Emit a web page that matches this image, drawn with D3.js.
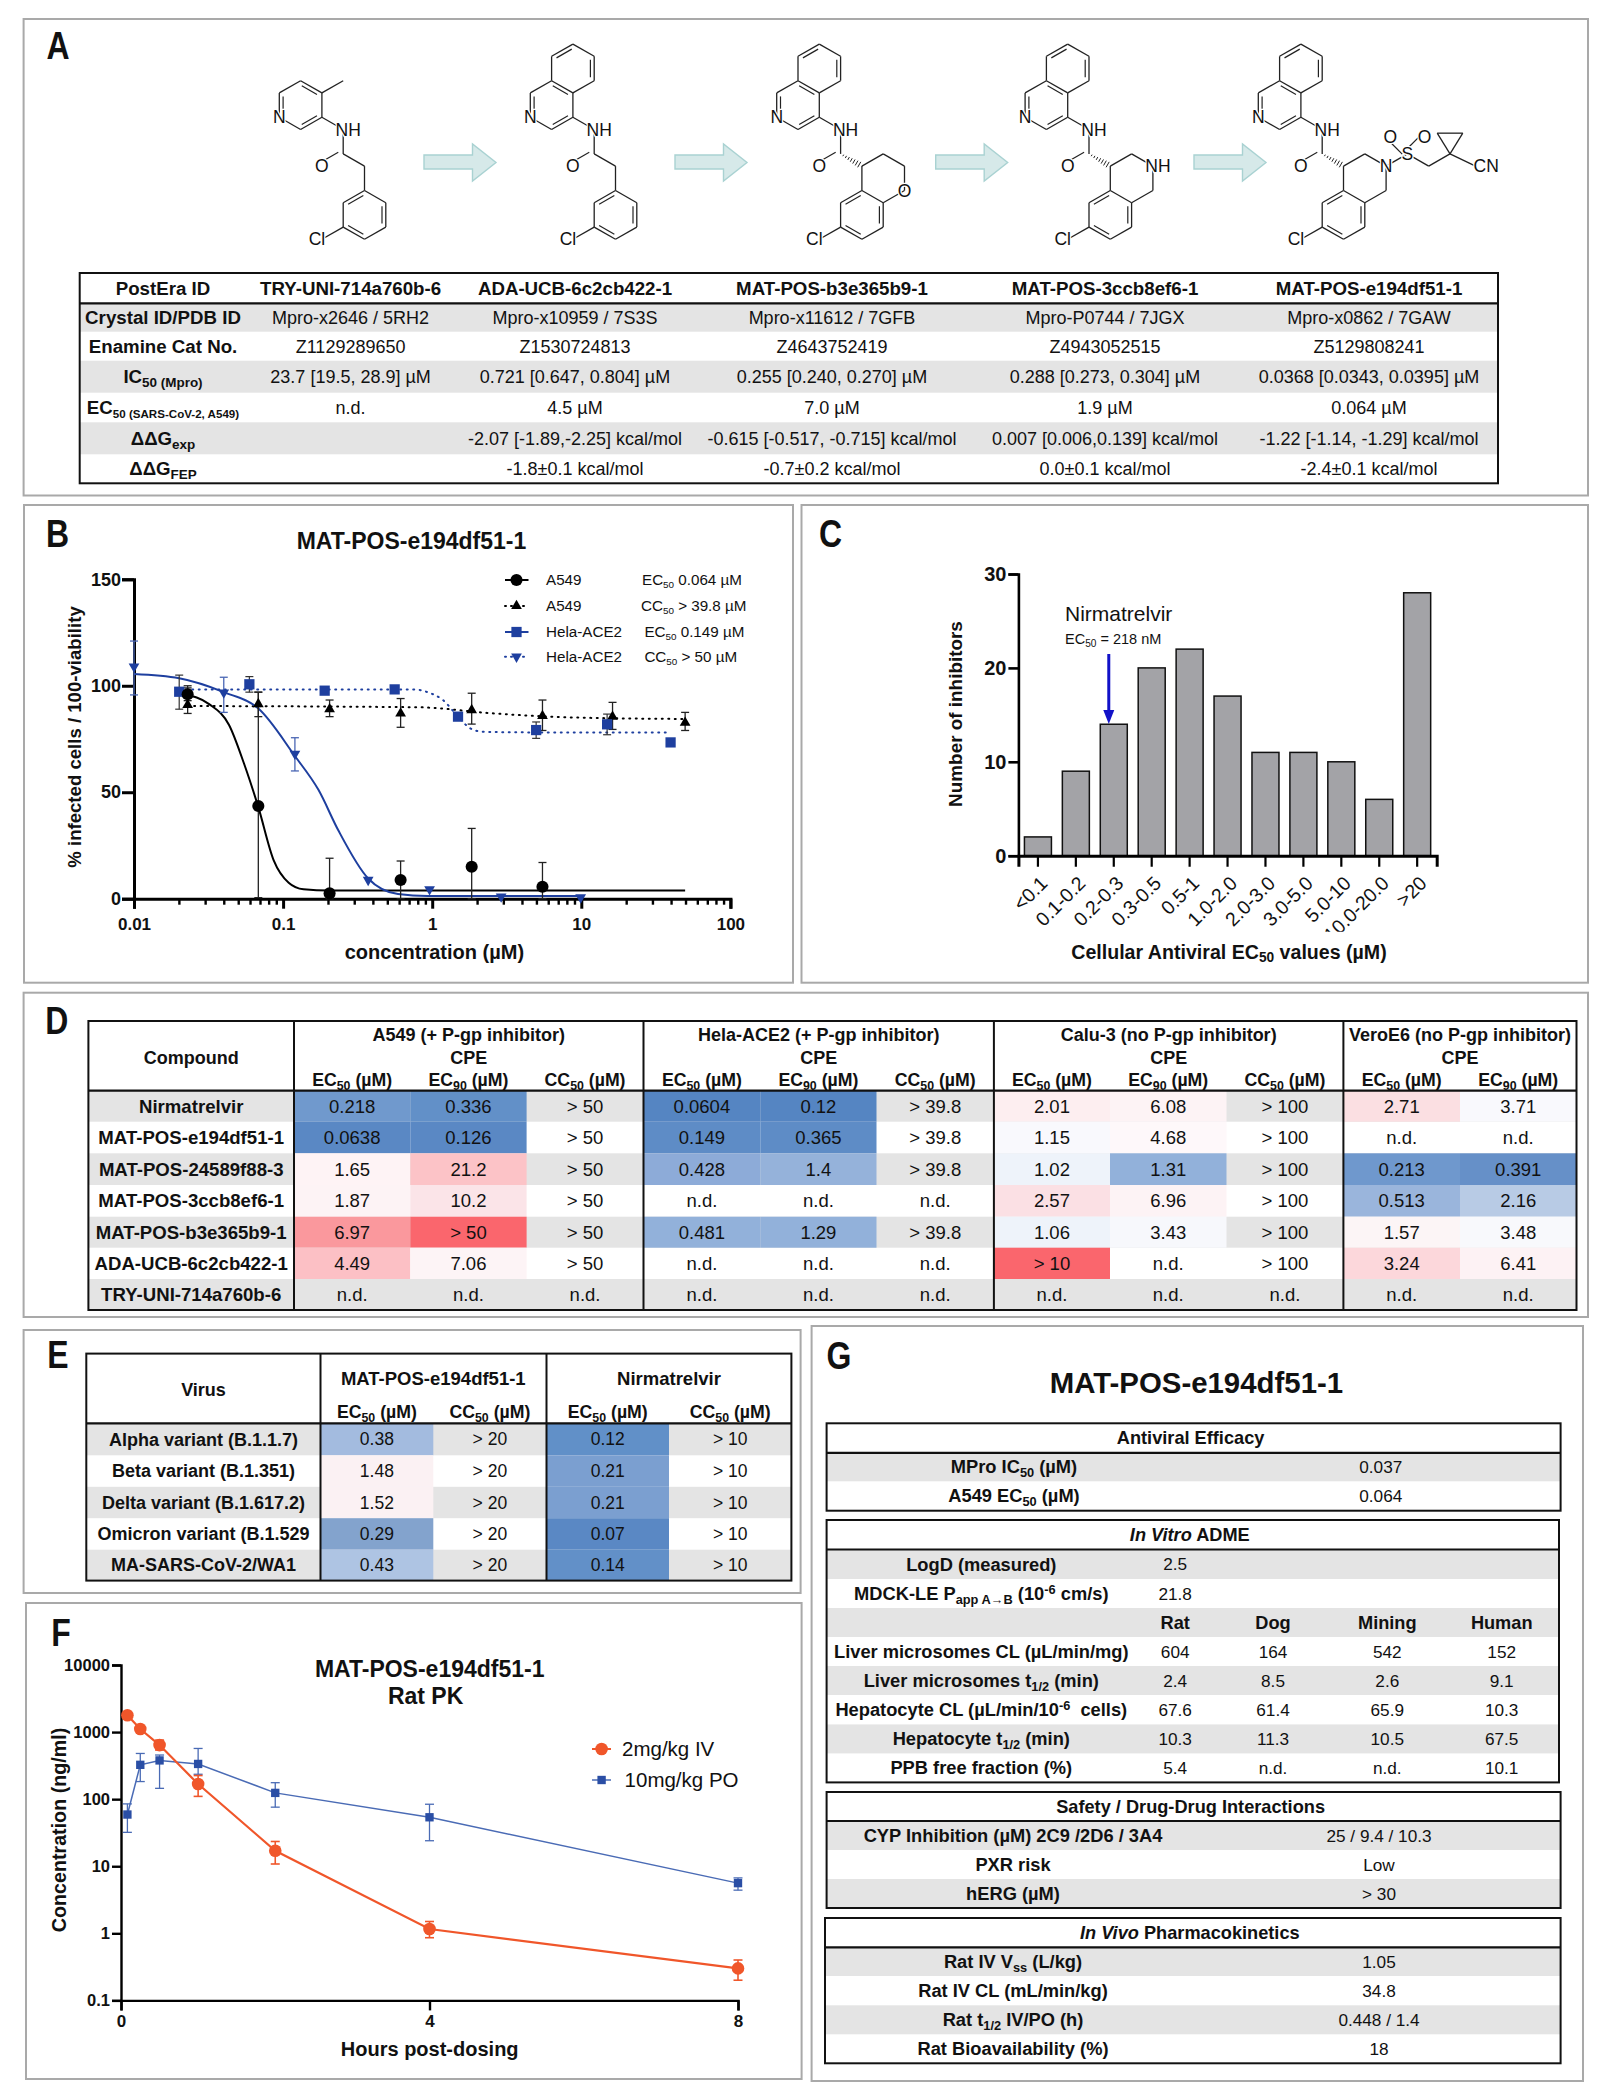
<!DOCTYPE html>
<html>
<head>
<meta charset="utf-8">
<script src="https://cdnjs.cloudflare.com/ajax/libs/d3/7.8.5/d3.min.js"></script>
<style>
body { margin: 0; background: #fff; }
text { font-family: "Liberation Sans", Arial, sans-serif; fill: #111; }
</style>
</head>
<body>
<svg id="fig" width="1603" height="2100"></svg>
<script>
// panel A table
var aHeader = ["PostEra ID", "TRY-UNI-714a760b-6", "ADA-UCB-6c2cb422-1", "MAT-POS-b3e365b9-1", "MAT-POS-3ccb8ef6-1", "MAT-POS-e194df51-1"];
var aCrystal = ["Crystal ID/PDB ID", "Mpro-x2646 / 5RH2", "Mpro-x10959 / 7S3S", "Mpro-x11612 / 7GFB", "Mpro-P0744 / 7JGX", "Mpro-x0862 / 7GAW"];
var aEnamine = ["Enamine Cat No.", "Z1129289650", "Z1530724813", "Z4643752419", "Z4943052515", "Z5129808241"];
var aIc50 = ["IC_{50 (Mpro)}", "23.7 [19.5, 28.9] µM", "0.721 [0.647, 0.804] µM", "0.255 [0.240, 0.270] µM", "0.288 [0.273, 0.304] µM", "0.0368 [0.0343, 0.0395] µM"];
var aEc50 = ["EC_{50 (SARS-CoV-2, A549)}", "n.d.", "4.5 µM", "7.0 µM", "1.9 µM", "0.064 µM"];
var aDdgExp = ["ΔΔG_{exp}", "", "-2.07 [-1.89,-2.25] kcal/mol", "-0.615 [-0.517, -0.715] kcal/mol", "0.007 [0.006,0.139] kcal/mol", "-1.22 [-1.14, -1.29] kcal/mol"];
var aDdgFep = ["ΔΔG_{FEP}", "", "-1.8±0.1 kcal/mol", "-0.7±0.2 kcal/mol", "0.0±0.1 kcal/mol", "-2.4±0.1 kcal/mol"];

// panel B, one set of arrays per series
var a549EcConc = [0.0229, 0.0682, 0.205, 0.614, 1.84, 5.49];
var a549EcVal = [96, 43.5, 2.5, 8.8, 15, 5.6];
var a549EcHi = [99, 97, 19, 17.7, 33, 17];
var a549EcLo = [93, 0.5, 0, 0, 0, 0];
var a549EcFitConc = [0.0217, 0.0319, 0.0434, 0.0546, 0.0682, 0.0865, 0.109, 0.137, 0.205, 49.7];
var a549EcFitVal = [96, 91.4, 81.6, 63.6, 43, 18, 7.5, 4.4, 3.8, 3.8];

var a549CcConc = [0.0229, 0.0682, 0.205, 0.614, 1.84, 5.49, 16.2, 49.7];
var a549CcVal = [91, 91.4, 89, 87, 88.6, 85.8, 85.5, 82.7];
var a549CcHi = [100, 97, 93.3, 94, 96.5, 93.3, 92.2, 87.5];
var a549CcLo = [87, 85.5, 85.5, 80.5, 82, 79, 79.5, 79];
var a549CcFitConc = [0.0229, 0.8, 2.6, 8, 49.7];
var a549CcFitVal = [90.5, 89.9, 87, 85.2, 84.4];

var helaEcConc = [0.01, 0.04, 0.12, 0.372, 0.96, 2.9, 9.9];
var helaEcVal = [109, 96.8, 68, 8.8, 4.4, 1, 0.6];
var helaEcHi = [121, 104, 75.6, 8.8, 4.4, 1, 0.6];
var helaEcLo = [95.7, 87.5, 60, 8.8, 4.4, 1, 0.6];
var helaEcFitConc = [0.01, 0.0201, 0.04, 0.068, 0.12, 0.173, 0.235, 0.372, 0.589, 0.933, 9.9];
var helaEcFitVal = [105.5, 103.5, 97, 89.4, 67, 51, 32, 9.5, 2.2, 1.3, 1.3];

var helaCcConc = [0.0201, 0.0594, 0.19, 0.56, 1.49, 4.98, 14.9, 39.7];
var helaCcVal = [97.2, 100.7, 97.7, 98.3, 85.5, 79.2, 81.9, 73.4];
var helaCcHi = [105, 104.3, 97.7, 98.3, 85.5, 83, 86.7, 73.4];
var helaCcLo = [89, 97, 97.7, 98.3, 85.5, 75.3, 77, 73.4];
var helaCcFitConc = [0.0201, 0.75, 0.93, 1.18, 1.49, 1.8, 2.18, 4.8, 39.7];
var helaCcFitVal = [98.3, 98.3, 97, 93.3, 85.5, 80, 78.4, 78.1, 78.1];

// panel C
var cBins = ["<0.1", "0.1-0.2", "0.2-0.3", "0.3-0.5", "0.5-1", "1.0-2.0", "2.0-3.0", "3.0-5.0", "5.0-10", "10.0-20.0", ">20"];
var cCounts = [2, 9, 14, 20, 22, 17, 11, 11, 10, 6, 28];

// panel D
var dGroups = ["A549 (+ P-gp inhibitor)", "Hela-ACE2 (+ P-gp inhibitor)", "Calu-3 (no P-gp inhibitor)", "VeroE6 (no P-gp inhibitor)"];
var dSubHeads = ["EC_{50} (µM)", "EC_{90} (µM)", "CC_{50} (µM)", "EC_{50} (µM)", "EC_{90} (µM)", "CC_{50} (µM)", "EC_{50} (µM)", "EC_{90} (µM)", "CC_{50} (µM)", "EC_{50} (µM)", "EC_{90} (µM)"];
var dCompounds = ["Nirmatrelvir", "MAT-POS-e194df51-1", "MAT-POS-24589f88-3", "MAT-POS-3ccb8ef6-1", "MAT-POS-b3e365b9-1", "ADA-UCB-6c2cb422-1", "TRY-UNI-714a760b-6"];
var dValues = [
  ["0.218", "0.336", "> 50", "0.0604", "0.12", "> 39.8", "2.01", "6.08", "> 100", "2.71", "3.71"],
  ["0.0638", "0.126", "> 50", "0.149", "0.365", "> 39.8", "1.15", "4.68", "> 100", "n.d.", "n.d."],
  ["1.65", "21.2", "> 50", "0.428", "1.4", "> 39.8", "1.02", "1.31", "> 100", "0.213", "0.391"],
  ["1.87", "10.2", "> 50", "n.d.", "n.d.", "n.d.", "2.57", "6.96", "> 100", "0.513", "2.16"],
  ["6.97", "> 50", "> 50", "0.481", "1.29", "> 39.8", "1.06", "3.43", "> 100", "1.57", "3.48"],
  ["4.49", "7.06", "> 50", "n.d.", "n.d.", "n.d.", "> 10", "n.d.", "> 100", "3.24", "6.41"],
  ["n.d.", "n.d.", "n.d.", "n.d.", "n.d.", "n.d.", "n.d.", "n.d.", "n.d.", "n.d.", "n.d."]
];
var dHeat = [
  ["#7099cd", "#6290c8", null, "#5585c2", "#5585c2", null, "#fdeef0", "#fdf3f5", null, "#fbdfe2", "#f9f9fd"],
  ["#5a88c4", "#5a88c4", null, "#5e8cc6", "#5e8cc6", null, "#f9f9fd", "#fef8fa", null, null, null],
  ["#fef3f5", "#fcc3c7", null, "#8dabd8", "#95b2da", null, "#eef3fa", "#92b1da", null, "#6f98cd", "#6690c8"],
  ["#fdf3f5", "#fbe4e8", null, null, null, null, "#fbe0e4", "#fdf3f5", null, "#9ab5dc", "#b8cbe5"],
  ["#fa989d", "#fa666d", null, "#92b1da", "#92b1da", null, "#eef3fa", "#f7f8fc", null, "#fcf5f6", "#f8f9fc"],
  ["#fcc0c5", "#fdf4f6", null, null, null, null, "#fa666d", null, null, "#fcd7db", "#fdf2f4"],
  [null, null, null, null, null, null, null, null, null, null, null]
];

// panel E
var eViruses = ["Alpha variant (B.1.1.7)", "Beta variant (B.1.351)", "Delta variant (B.1.617.2)", "Omicron variant (B.1.529", "MA-SARS-CoV-2/WA1"];
var eMatEc = ["0.38", "1.48", "1.52", "0.29", "0.43"];
var eMatCc = ["> 20", "> 20", "> 20", "> 20", "> 20"];
var eNirEc = ["0.12", "0.21", "0.21", "0.07", "0.14"];
var eNirCc = ["> 10", "> 10", "> 10", "> 10", "> 10"];
var eMatHeat = ["#a3bbdf", "#fbf1f3", "#fbf1f3", "#83a3cd", "#aec4e3"];
var eNirHeat = ["#6190c8", "#7b9fd0", "#7b9fd0", "#5a88c4", "#6290c8"];

// panel F
var fHours = [0.083, 0.25, 0.5, 1, 2, 4, 8];
var fIv = [1780, 1110, 640, 168, 17, 1.16, 0.30];
var fIvHi = [1780, 1110, 760, 225, 23.4, 1.5, 0.40];
var fIvLo = [1780, 1110, 540, 110, 10.8, 0.86, 0.20];
var fPo = [59, 325, 378, 335, 124, 53.7, 5.6];
var fPoHi = [85, 480, 455, 570, 176, 84, 6.7];
var fPoLo = [32, 183, 145, 235, 76, 24, 4.4];

// panel G
var gEffLabels = ["MPro IC_{50} (µM)", "A549 EC_{50} (µM)"];
var gEffValues = ["0.037", "0.064"];
var gAdmeLabels = ["LogD (measured)", "MDCK-LE P_{app A→B} (10^{-6} cm/s)", "", "Liver microsomes CL (µL/min/mg)", "Liver microsomes t_{1/2} (min)", "Hepatocyte CL (µL/min/10^{-6}  cells)", "Hepatocyte t_{1/2} (min)", "PPB free fraction (%)"];
var gAdmeRat = ["2.5", "21.8", "Rat", "604", "2.4", "67.6", "10.3", "5.4"];
var gAdmeDog = ["", "", "Dog", "164", "8.5", "61.4", "11.3", "n.d."];
var gAdmeMining = ["", "", "Mining", "542", "2.6", "65.9", "10.5", "n.d."];
var gAdmeHuman = ["", "", "Human", "152", "9.1", "10.3", "67.5", "10.1"];
var gSafetyLabels = ["CYP Inhibition (µM) 2C9 /2D6 / 3A4", "PXR risk", "hERG (µM)"];
var gSafetyValues = ["25 / 9.4 / 10.3", "Low", "> 30"];
var gPkLabels = ["Rat IV V_{ss} (L/kg)", "Rat IV CL (mL/min/kg)", "Rat t_{1/2} IV/PO (h)", "Rat Bioavailability (%)"];
var gPkValues = ["1.05", "34.8", "0.448 / 1.4", "18"];

var GREY = "#e4e4e4";
var LINE = "#111";
var BLUE = "#1e3f9f";
var svg = d3.select("#fig");
svg.append("rect").attr("width", 1603).attr("height", 2100).attr("fill", "#fff");

// text with _{sub}, ^{sup} and *italic* markup
function label(g, x, y, str, o) {
    o = o || {};
    var size = o.size || 17;
    var t = g.append("text").attr("x", x).attr("y", y + size * 0.35)
        .attr("text-anchor", o.anchor || "middle")
        .attr("font-size", size)
        .attr("font-weight", o.weight || "normal");
    if (o.fill) t.style("fill", o.fill);
    if (o.transform) t.attr("transform", o.transform).attr("x", 0).attr("y", size * 0.35);
    var re = /_\{([^}]*)\}|\^\{([^}]*)\}|\*([^*]*)\*/g;
    var last = 0, shift = 0, m;
    function put(s, extra, fs, italic) {
        if (!s) return;
        var sp = t.append("tspan").text(s).attr("xml:space", "preserve").attr("dy", (extra - shift));
        if (fs) sp.attr("font-size", fs);
        if (italic) sp.attr("font-style", "italic");
        shift = extra;
    }
    while ((m = re.exec(str)) !== null) {
        put(str.slice(last, m.index), 0);
        if (m[1] !== undefined) put(m[1], size * 0.2, size * (o.subScale || 0.7));
        else if (m[2] !== undefined) put(m[2], -size * 0.32, size * 0.7);
        else put(m[3], 0, null, true);
        last = m.index + m[0].length;
    }
    put(str.slice(last), 0);
    return t;
}

function hline(g, x0, x1, y, w) {
    g.append("line").attr("x1", x0).attr("x2", x1).attr("y1", y).attr("y2", y).attr("stroke", LINE).attr("stroke-width", w || 2);
}
function vline(g, x, y0, y1, w) {
    g.append("line").attr("x1", x).attr("x2", x).attr("y1", y0).attr("y2", y1).attr("stroke", LINE).attr("stroke-width", w || 2);
}

function frame(x0, y0, x1, y1, letter, lx, ly) {
    svg.append("rect").attr("x", x0).attr("y", y0).attr("width", x1 - x0).attr("height", y1 - y0)
        .attr("fill", "none").attr("stroke", "#a9a9a9").attr("stroke-width", 2);
    svg.append("text").text(letter).attr("text-anchor", "middle")
        .attr("transform", "translate(" + lx + "," + (ly + 14) + ") scale(0.82,1)")
        .attr("font-size", 39).attr("font-weight", "bold");
}

// grey bands on every other body row, yEdges[0] = table top, yEdges[1] = header bottom
function stripes(g, x0, x1, yEdges) {
    for (var i = 1; i < yEdges.length - 1; i += 2) {
        g.append("rect").attr("x", x0).attr("width", x1 - x0).attr("y", yEdges[i]).attr("height", yEdges[i + 1] - yEdges[i]).attr("fill", GREY);
    }
}
function outline(g, x0, x1, yEdges) {
    g.append("rect").attr("x", x0).attr("y", yEdges[0]).attr("width", x1 - x0).attr("height", yEdges[yEdges.length - 1] - yEdges[0])
        .attr("fill", "none").attr("stroke", LINE).attr("stroke-width", 2);
    hline(g, x0, x1, yEdges[1], 2.2);
}

/* ---------- A ---------- */
frame(23.6, 19, 1588, 495.5, "A", 58, 45);

var DX = 21.3, DY = 12.2;
var ringP = [[[0, 0], [1, 1]], [[1, 1], [1, 3]], [[1, 3], [0, 4]], [[0, 4], [-1, 3]], [[-1, 3], [-1, 1]], [[-1, 1], [0, 0]]];
var ringPDbl = [[[0, 0], [1, 1], [0, 2]], [[1, 3], [0, 4], [0, 2]], [[-1, 3], [-1, 1], [0, 2]]];
var ringQ = [[[1, -3], [2, -2]], [[2, -2], [2, 0]], [[2, 0], [1, 1]], [[0, 0], [0, -2]], [[0, -2], [1, -3]]];
var ringQDbl = [[[2, -2], [2, 0], [1, -1]], [[0, -2], [1, -3], [1, -1]]];
var amide = [[[1, 3], [2, 4]], [[2, 4], [2, 6]]];
var carbonylDbl = [[[2, 6], [1, 7], [1, 6]]];
var ringB = [[[3, 9], [4, 10]], [[4, 10], [4, 12]], [[4, 12], [3, 13]], [[3, 13], [2, 12]], [[2, 12], [2, 10]], [[2, 10], [3, 9]], [[2, 12], [1, 13]]];
var ringBDbl = [[[3, 9], [2, 10], [3, 11]], [[4, 10], [4, 12], [3, 11]], [[3, 13], [2, 12], [3, 11]]];
var commonLabels = [["N", -1, 3, 0, "middle"], ["NH", 2, 4, 5, "middle"], ["O", 1, 7, 0, "middle"], ["Cl", 1, 13, -5, "middle"]];
var lowerRing = [[[3, 7], [4, 6]], [[4, 6], [5, 7]], [[5, 7], [5, 9]], [[5, 9], [4, 10]], [[3, 7], [3, 9]]];

var molecules = [
    { x: 300.6, bonds: ringP.concat(amide, ringB, [[[1, 1], [2, 0]], [[2, 6], [3, 7]], [[3, 7], [3, 9]]]), dbl: ringPDbl.concat(ringBDbl, carbonylDbl), hash: [], labels: commonLabels },
    { x: 551.6, bonds: ringP.concat(ringQ, amide, ringB, [[[2, 6], [3, 7]], [[3, 7], [3, 9]]]), dbl: ringPDbl.concat(ringQDbl, ringBDbl, carbonylDbl), hash: [], labels: commonLabels },
    { x: 798, bonds: ringP.concat(ringQ, amide, ringB, lowerRing), dbl: ringPDbl.concat(ringQDbl, ringBDbl, carbonylDbl), hash: [[[2, 6], [3, 7]]], labels: commonLabels.concat([["O", 5, 9, 0, "middle"]]) },
    { x: 1046.4, bonds: ringP.concat(ringQ, amide, ringB, lowerRing), dbl: ringPDbl.concat(ringQDbl, ringBDbl, carbonylDbl), hash: [[[2, 6], [3, 7]]], labels: commonLabels.concat([["NH", 5, 7, 5, "middle"]]) },
    { x: 1279.6, bonds: ringP.concat(ringQ, amide, ringB, lowerRing, [[[5, 7], [6, 6]], [[6, 6], [7, 7]], [[7, 7], [8, 6]], [[8, 6], [7.4, 4.3]], [[7.4, 4.3], [8.6, 4.3]], [[8.6, 4.3], [8, 6]], [[8, 6], [9.2, 7]]]),
      dbl: ringPDbl.concat(ringQDbl, ringBDbl, carbonylDbl, [[[6, 6], [5.2, 4.6], [5, 5]], [[6, 6], [6.8, 4.6], [5.5, 5]]]), hash: [[[2, 6], [3, 7]]],
      labels: commonLabels.concat([["N", 5, 7, 0, "middle"], ["S", 6, 6, 0, "middle"], ["O", 5.2, 4.6, 0, "middle"], ["O", 6.8, 4.6, 0, "middle"], ["CN", 9.2, 7, -2, "start"]]) }
];

molecules.forEach(function (mol) {
    var g = svg.append("g");
    var px = function (p) { return [mol.x + p[0] * DX, 80.7 + p[1] * DY]; };
    mol.bonds.forEach(function (b) {
        var a = px(b[0]), c = px(b[1]);
        g.append("line").attr("x1", a[0]).attr("y1", a[1]).attr("x2", c[0]).attr("y2", c[1]).attr("stroke", "#222").attr("stroke-width", 1.3);
    });
    mol.dbl.forEach(function (b) {
        var a = px(b[0]), c = px(b[1]), ctr = px(b[2]);
        var dx = c[0] - a[0], dy = c[1] - a[1], len = Math.sqrt(dx * dx + dy * dy);
        var nx = -dy / len, ny = dx / len;
        var mx = (a[0] + c[0]) / 2, my = (a[1] + c[1]) / 2;
        if ((ctr[0] - mx) * nx + (ctr[1] - my) * ny < 0) { nx = -nx; ny = -ny; }
        var ux = dx / len, uy = dy / len, off = 3.8, cut = 3.5;
        g.append("line").attr("x1", a[0] + nx * off + ux * cut).attr("y1", a[1] + ny * off + uy * cut)
            .attr("x2", c[0] + nx * off - ux * cut).attr("y2", c[1] + ny * off - uy * cut)
            .attr("stroke", "#222").attr("stroke-width", 1.2);
    });
    mol.hash.forEach(function (b) {
        var a = px(b[0]), c = px(b[1]);
        var dx = c[0] - a[0], dy = c[1] - a[1], len = Math.sqrt(dx * dx + dy * dy);
        d3.range(1, 8).forEach(function (i) {
            var f = i / 8, w = 0.5 + f * 3;
            var cx = a[0] + dx * f, cy = a[1] + dy * f;
            g.append("line").attr("x1", cx - dy / len * w).attr("y1", cy + dx / len * w)
                .attr("x2", cx + dy / len * w).attr("y2", cy - dx / len * w)
                .attr("stroke", "#222").attr("stroke-width", 1);
        });
    });
    mol.labels.forEach(function (l) {
        var p = px([l[1], l[2]]);
        label(g, p[0] + l[3], p[1], l[0], { size: 17.5, anchor: l[4] })
            .attr("stroke", "#fff").attr("stroke-width", 2.5).attr("paint-order", "stroke");
    });
});
var arrowXs = [424, 675, 935.7, 1194];
arrowXs.forEach(function (x) {
    var p = d3.path();
    p.moveTo(x, 155); p.lineTo(x + 48.5, 155); p.lineTo(x + 48.5, 144); p.lineTo(x + 72, 162.5);
    p.lineTo(x + 48.5, 181); p.lineTo(x + 48.5, 169); p.lineTo(x, 169); p.closePath();
    svg.append("path").attr("d", p.toString()).attr("fill", "#d6e9e9").attr("stroke", "#a9d2d2").attr("stroke-width", 1.4);
});

var aG = svg.append("g");
var aYs = [273, 303.3, 331.7, 360.7, 392.7, 422.3, 454.3, 483.3];
var aXs = [163, 350.6, 575, 832, 1105, 1369];
stripes(aG, 79.7, 1498, aYs);
outline(aG, 79.7, 1498, aYs);
[aHeader, aCrystal, aEnamine, aIc50, aEc50, aDdgExp, aDdgFep].forEach(function (row, r) {
    var yc = (aYs[r] + aYs[r + 1]) / 2;
    row.forEach(function (s, c) {
        var hdr = r === 0 || c === 0;
        label(aG, aXs[c], yc, s, { size: hdr ? 18.7 : 18, weight: hdr ? "bold" : "normal", subScale: r === 4 && c === 0 ? 0.62 : 0.72 });
    });
});

/* ---------- B ---------- */
frame(24, 505, 793, 982.7, "B", 57.5, 533);
var bG = svg.append("g");
var bX = d3.scaleLog().domain([0.01, 100]).range([134, 730.4]);
var bY = d3.scaleLinear().domain([0, 150]).range([898.7, 579.3]);

function zip(xs, ys, hi, lo) {
    return xs.map(function (x, i) { return { x: x, y: ys[i], hi: hi ? hi[i] : ys[i], lo: lo ? lo[i] : ys[i] }; });
}
function styleAxis(g, size, sw, weight) {
    g.selectAll("path.domain").attr("stroke", "#000").attr("stroke-width", sw);
    g.selectAll(".tick line").attr("stroke", "#000").attr("stroke-width", sw);
    g.selectAll("text").attr("font-size", size).attr("font-weight", weight || "bold")
        .attr("font-family", '"Liberation Sans", Arial, sans-serif');
}

var majors = [0.01, 0.1, 1, 10, 100];
var bTicks = [100];
[0.01, 0.1, 1, 10].forEach(function (e) { d3.range(1, 10).forEach(function (m) { bTicks.push(+(e * m).toPrecision(3)); }); });
var bxAxis = bG.append("g").attr("transform", "translate(0,898.7)")
    .call(d3.axisBottom(bX).tickValues(bTicks).tickSizeOuter(0).tickSize(10).tickPadding(9).tickFormat(function (d) { return majors.indexOf(d) >= 0 ? String(d) : ""; }));
styleAxis(bxAxis, 17, 3);
bxAxis.selectAll(".tick").filter(function (d) { return majors.indexOf(d) < 0; }).select("line").attr("y2", 6).attr("stroke-width", 2.4);
var byAxis = bG.append("g").attr("transform", "translate(134,0)")
    .call(d3.axisLeft(bY).tickValues([0, 50, 100, 150]).tickSizeOuter(0).tickSize(12).tickPadding(1));
styleAxis(byAxis, 18, 3);

function errBars(g, pts, x, y, color, sw, cap) {
    pts.forEach(function (d) {
        if (d.hi === d.lo) return;
        var px = x(d.x);
        g.append("line").attr("x1", px).attr("x2", px).attr("y1", y(d.hi)).attr("y2", y(d.lo)).attr("stroke", color).attr("stroke-width", sw);
        [d.hi, d.lo].forEach(function (v) {
            g.append("line").attr("x1", px - cap).attr("x2", px + cap).attr("y1", y(v)).attr("y2", y(v)).attr("stroke", color).attr("stroke-width", sw);
        });
    });
}
function fitLine(g, pts, x, y, color, sw, dash, curve) {
    var line = d3.line().x(function (d) { return x(d.x); }).y(function (d) { return y(d.y); }).curve(curve);
    var p = g.append("path").attr("d", line(pts)).attr("fill", "none").attr("stroke", color).attr("stroke-width", sw);
    if (dash) p.attr("stroke-dasharray", dash).attr("stroke-linecap", "round");
}
function markers(g, pts, x, y, type, size, color, flip) {
    g.selectAll(null).data(pts).enter().append("path")
        .attr("d", d3.symbol().type(type).size(size))
        .attr("fill", color)
        .attr("transform", function (d) { return "translate(" + x(d.x) + "," + y(d.y) + ")" + (flip ? " rotate(180)" : ""); });
}

var curve = d3.curveMonotoneX;
fitLine(bG, zip(a549CcFitConc, a549CcFitVal), bX, bY, "#000", 2, "1 5.5", curve);
fitLine(bG, zip(helaCcFitConc, helaCcFitVal), bX, bY, BLUE, 2, "1 5.5", curve);
fitLine(bG, zip(a549EcFitConc, a549EcFitVal), bX, bY, "#000", 2, null, curve);
fitLine(bG, zip(helaEcFitConc, helaEcFitVal), bX, bY, BLUE, 2, null, curve);
errBars(bG, zip(a549CcConc, a549CcVal, a549CcHi, a549CcLo), bX, bY, "#222", 1.3, 4);
errBars(bG, zip(a549EcConc, a549EcVal, a549EcHi, a549EcLo), bX, bY, "#222", 1.3, 4);
errBars(bG, zip(helaEcConc, helaEcVal, helaEcHi, helaEcLo), bX, bY, "#4a66b4", 1.3, 4);
errBars(bG, zip(helaCcConc, helaCcVal, helaCcHi, helaCcLo), bX, bY, "#333", 1.2, 4);
markers(bG, zip(a549CcConc, a549CcVal), bX, bY, d3.symbolTriangle, 50, "#000");
markers(bG, zip(helaCcConc, helaCcVal), bX, bY, d3.symbolSquare, 105, BLUE);
markers(bG, zip(helaEcConc, helaEcVal), bX, bY, d3.symbolTriangle, 50, BLUE, true);
markers(bG, zip(a549EcConc, a549EcVal), bX, bY, d3.symbolCircle, 115, "#000");

var bLegend = [
    { y: 580, name: "A549", note: "EC_{50} 0.064 µM", nx: 642, type: d3.symbolCircle, size: 115, color: "#000", dash: null, flip: false },
    { y: 606, name: "A549", note: "CC_{50} > 39.8 µM", nx: 641, type: d3.symbolTriangle, size: 50, color: "#000", dash: "1 5", flip: false },
    { y: 632, name: "Hela-ACE2", note: "EC_{50} 0.149 µM", nx: 644.4, type: d3.symbolSquare, size: 105, color: BLUE, dash: null, flip: false },
    { y: 656.7, name: "Hela-ACE2", note: "CC_{50} > 50 µM", nx: 644.4, type: d3.symbolTriangle, size: 50, color: BLUE, dash: "1 5", flip: true }
];
bLegend.forEach(function (l) {
    var ln = bG.append("line").attr("x1", 505).attr("x2", 528.5).attr("y1", l.y).attr("y2", l.y).attr("stroke", l.color).attr("stroke-width", 2);
    if (l.dash) ln.attr("stroke-dasharray", l.dash).attr("stroke-linecap", "round");
    bG.append("path").attr("d", d3.symbol().type(l.type).size(l.size)).attr("fill", l.color)
        .attr("transform", "translate(516.5," + l.y + ")" + (l.flip ? " rotate(180)" : ""));
    label(bG, 546, l.y, l.name, { size: 15.2, anchor: "start" });
    label(bG, l.nx, l.y, l.note, { size: 15.2, anchor: "start", subScale: 0.65 });
});
label(bG, 411.5, 540.7, "MAT-POS-e194df51-1", { size: 23, weight: "bold" });
label(bG, 434.4, 951.7, "concentration (µM)", { size: 20, weight: "bold" });
label(bG, 0, 0, "% infected cells / 100-viability", { size: 18.6, weight: "bold", transform: "translate(74,737) rotate(-90)" });

/* ---------- C ---------- */
frame(801.5, 505, 1588, 982.7, "C", 830.6, 533);
var cG = svg.append("g");
var cX = d3.scaleBand().domain(cBins).range([1018.4, 1436.7]).paddingInner(0.288).paddingOuter(0.159);
var cY = d3.scaleLinear().domain([0, 30]).range([855.7, 574]);
cG.selectAll(null).data(cCounts).enter().append("rect")
    .attr("x", function (d, i) { return cX(cBins[i]); })
    .attr("y", function (d) { return cY(d); })
    .attr("width", cX.bandwidth())
    .attr("height", function (d) { return cY(0) - cY(d); })
    .attr("fill", "#a3a3a7").attr("stroke", "#111").attr("stroke-width", 1.5);
svg.append("clipPath").attr("id", "cTickClip").append("rect").attr("x", 950).attr("y", -10).attr("width", 560).attr("height", 86);
var cxAxis = cG.append("g").attr("transform", "translate(0,855.7)").attr("clip-path", "url(#cTickClip)")
    .call(d3.axisBottom(cX).tickSizeOuter(0).tickSize(11));
styleAxis(cxAxis, 19.5, 2.2, "normal");
cxAxis.select("path.domain").attr("stroke-width", 3);
cxAxis.selectAll("text").attr("text-anchor", "end").attr("y", 0).attr("dy", ".35em").attr("transform", "translate(6,24) rotate(-45)");
var cyAxis = cG.append("g").attr("transform", "translate(1018.4,0)")
    .call(d3.axisLeft(cY).tickValues([0, 10, 20, 30]).tickSizeOuter(0).tickSize(10).tickPadding(2));
styleAxis(cyAxis, 20, 2.6);
label(cG, 1065, 614, "Nirmatrelvir", { size: 21, anchor: "start" });
label(cG, 1065, 639, "EC_{50} = 218 nM", { size: 14.5, anchor: "start" });
var nirX = cX("0.2-0.3") + cX.bandwidth() / 2 - 5;
cG.append("line").attr("x1", nirX).attr("x2", nirX).attr("y1", 654).attr("y2", 712).attr("stroke", "#1212c8").attr("stroke-width", 3);
cG.append("path").attr("d", "M" + (nirX - 5.5) + ",710L" + (nirX + 5.5) + ",710L" + nirX + ",724Z").attr("fill", "#1212c8");
label(cG, 1229, 951.7, "Cellular Antiviral EC_{50} values (µM)", { size: 19.6, weight: "bold" });
label(cG, 0, 0, "Number of inhibitors", { size: 18.9, weight: "bold", transform: "translate(955.6,714) rotate(-90)" });

/* ---------- D ---------- */
frame(23.6, 992.7, 1588, 1317, "D", 56.7, 1020);
var dG = svg.append("g");
var dYs = [1021, 1090.7, 1121.7, 1153.3, 1185, 1216.7, 1247.7, 1279, 1310];
var dEdges = [294, 410.3, 526.6, 643.5, 760.3, 876.5, 993.9, 1110, 1226.5, 1343.4, 1460, 1576.5];
var dLeft = 88.4, dRight = 1576.5;
stripes(dG, dLeft, dRight, dYs);
dValues.forEach(function (row, r) {
    row.forEach(function (s, c) {
        if (dHeat[r][c]) {
            dG.append("rect").attr("x", dEdges[c]).attr("y", dYs[r + 1]).attr("width", dEdges[c + 1] - dEdges[c]).attr("height", dYs[r + 2] - dYs[r + 1]).attr("fill", dHeat[r][c]);
        }
        label(dG, (dEdges[c] + dEdges[c + 1]) / 2, (dYs[r + 1] + dYs[r + 2]) / 2, s, { size: 18.5 });
    });
    label(dG, (dLeft + dEdges[0]) / 2, (dYs[r + 1] + dYs[r + 2]) / 2, dCompounds[r], { size: 18.6, weight: "bold" });
});
outline(dG, dLeft, dRight, dYs);
[294, 643.5, 993.9, 1343.4].forEach(function (x) { vline(dG, x, dYs[0], dYs[dYs.length - 1], 2); });
label(dG, (dLeft + dEdges[0]) / 2, 1057.3, "Compound", { size: 18, weight: "bold" });
[[294, 643.5], [643.5, 993.9], [993.9, 1343.4], [1343.4, 1576.5]].forEach(function (span, i) {
    var xc = (span[0] + span[1]) / 2;
    label(dG, xc, 1034.3, dGroups[i], { size: 18, weight: "bold" });
    label(dG, xc, 1057.3, "CPE", { size: 18, weight: "bold" });
});
dSubHeads.forEach(function (s, c) {
    label(dG, (dEdges[c] + dEdges[c + 1]) / 2, 1080, s, { size: 17.7, weight: "bold" });
});

/* ---------- E ---------- */
frame(23.6, 1330, 800.6, 1593, "E", 58, 1354);
var eG = svg.append("g");
var eYs = [1353.6, 1423.4, 1455.3, 1486.8, 1518.2, 1549.7, 1580.6];
var eEdges = [86.3, 320.5, 433.3, 546.5, 669, 791.4];
stripes(eG, eEdges[0], eEdges[5], eYs);
eViruses.forEach(function (v, r) {
    var y0 = eYs[r + 1], y1 = eYs[r + 2], yc = (y0 + y1) / 2;
    eG.append("rect").attr("x", eEdges[1]).attr("y", y0).attr("width", eEdges[2] - eEdges[1]).attr("height", y1 - y0).attr("fill", eMatHeat[r]);
    eG.append("rect").attr("x", eEdges[3]).attr("y", y0).attr("width", eEdges[4] - eEdges[3]).attr("height", y1 - y0).attr("fill", eNirHeat[r]);
    label(eG, 203.5, yc, v, { size: 18, weight: "bold" });
    [eMatEc[r], eMatCc[r], eNirEc[r], eNirCc[r]].forEach(function (s, c) {
        label(eG, (eEdges[c + 1] + eEdges[c + 2]) / 2, yc, s, { size: 17.5 });
    });
});
outline(eG, eEdges[0], eEdges[5], eYs);
vline(eG, eEdges[1], eYs[0], eYs[6]);
vline(eG, eEdges[3], eYs[0], eYs[6]);
label(eG, 203.5, 1389.5, "Virus", { size: 18, weight: "bold" });
label(eG, 433.3, 1379, "MAT-POS-e194df51-1", { size: 18.5, weight: "bold" });
label(eG, 669, 1379, "Nirmatrelvir", { size: 18.5, weight: "bold" });
["EC_{50} (µM)", "CC_{50} (µM)", "EC_{50} (µM)", "CC_{50} (µM)"].forEach(function (s, c) {
    label(eG, (eEdges[c + 1] + eEdges[c + 2]) / 2, 1412, s, { size: 17.7, weight: "bold" });
});

/* ---------- F ---------- */
frame(26, 1603, 801.6, 2079, "F", 61, 1632);
var fG = svg.append("g");
var ORANGE = "#f0562a", FBLUE = "#2a4ea5";
var fX = d3.scaleLinear().domain([0, 8]).range([121, 738]);
var fY = d3.scaleLog().domain([0.1, 10000]).range([2000.4, 1665]);
var fxAxis = fG.append("g").attr("transform", "translate(0,2000.4)")
    .call(d3.axisBottom(fX).tickValues([0, 4, 8]).tickSizeOuter(0).tickSize(10).tickPadding(5));
styleAxis(fxAxis, 17, 2.4);
var fyAxis = fG.append("g").attr("transform", "translate(121,0)")
    .call(d3.axisLeft(fY).tickValues([0.1, 1, 10, 100, 1000, 10000]).tickFormat(function (d) { return String(d); }).tickSizeOuter(0).tickSize(9).tickPadding(2));
styleAxis(fyAxis, 16.5, 2.4);
fitLine(fG, zip(fHours, fPo), fX, fY, "#4a6bb5", 1.5, null, d3.curveLinear);
fitLine(fG, zip(fHours, fIv), fX, fY, ORANGE, 2.2, null, d3.curveLinear);
errBars(fG, zip(fHours, fPo, fPoHi, fPoLo), fX, fY, "#4a6bb5", 1.3, 4.5);
errBars(fG, zip(fHours, fIv, fIvHi, fIvLo), fX, fY, ORANGE, 1.6, 4.5);
markers(fG, zip(fHours, fIv), fX, fY, d3.symbolCircle, 125, ORANGE);
markers(fG, zip(fHours, fPo), fX, fY, d3.symbolSquare, 70, FBLUE);
[[1749, "2mg/kg IV", 622, ORANGE, d3.symbolCircle, 125, 2], [1780, "10mg/kg PO", 624.6, "#4a6bb5", d3.symbolSquare, 70, 1.5]].forEach(function (l) {
    fG.append("line").attr("x1", 592).attr("x2", 611).attr("y1", l[0]).attr("y2", l[0]).attr("stroke", l[3]).attr("stroke-width", l[6]);
    fG.append("path").attr("d", d3.symbol().type(l[4]).size(l[5])).attr("fill", l[3] === ORANGE ? ORANGE : FBLUE).attr("transform", "translate(601.6," + l[0] + ")");
    label(fG, l[2], l[0], l[1], { size: 20.5, anchor: "start" });
});
label(fG, 429.7, 1669, "MAT-POS-e194df51-1", { size: 23, weight: "bold" });
label(fG, 425.6, 1696, "Rat PK", { size: 23, weight: "bold" });
label(fG, 429.7, 2048.5, "Hours post-dosing", { size: 20, weight: "bold" });
label(fG, 0, 0, "Concentration (ng/ml)", { size: 19.7, weight: "bold", transform: "translate(58.8,1830) rotate(-90)" });

/* ---------- G ---------- */
frame(811.6, 1326, 1583, 2081, "G", 839, 1354.6);
var gG = svg.append("g");
label(gG, 1196.4, 1383, "MAT-POS-e194df51-1", { size: 29.4, weight: "bold" });

function gTable(x0, x1, ys, title, rows, labelX, valueXs) {
    stripes(gG, x0, x1, ys);
    outline(gG, x0, x1, ys);
    label(gG, (x0 + x1) / 2 - 3, (ys[0] + ys[1]) / 2, title, { size: 18.2, weight: "bold" });
    rows.labels.forEach(function (s, r) {
        var yc = (ys[r + 1] + ys[r + 2]) / 2;
        label(gG, labelX, yc, s, { size: 18.3, weight: "bold" });
        rows.values.forEach(function (col, c) {
            var heading = col[r] === "Rat" || col[r] === "Dog" || col[r] === "Mining" || col[r] === "Human";
            label(gG, valueXs[c], yc, col[r], { size: heading ? 18.2 : 17.2, weight: heading ? "bold" : "normal" });
        });
    });
}
gTable(826.6, 1560.6, [1423.3, 1452.8, 1481.3, 1510.7], "Antiviral Efficacy", { labels: gEffLabels, values: [gEffValues] }, 1014, [1380.8]);
gTable(826.6, 1559, [1520, 1549.5, 1579, 1608, 1637, 1666, 1695, 1724.4, 1753.4, 1782.4], "*In Vitro* ADME",
    { labels: gAdmeLabels, values: [gAdmeRat, gAdmeDog, gAdmeMining, gAdmeHuman] }, 981.3, [1175.2, 1273, 1387.3, 1501.7]);
gTable(826.6, 1560.6, [1792, 1821, 1850, 1879, 1908], "Safety / Drug-Drug Interactions", { labels: gSafetyLabels, values: [gSafetyValues] }, 1013, [1379]);
gTable(825, 1560.6, [1918, 1947.4, 1976, 2005.3, 2034.3, 2063.3], "*In Vivo* Pharmacokinetics", { labels: gPkLabels, values: [gPkValues] }, 1013, [1379]);
</script>
</body>
</html>
